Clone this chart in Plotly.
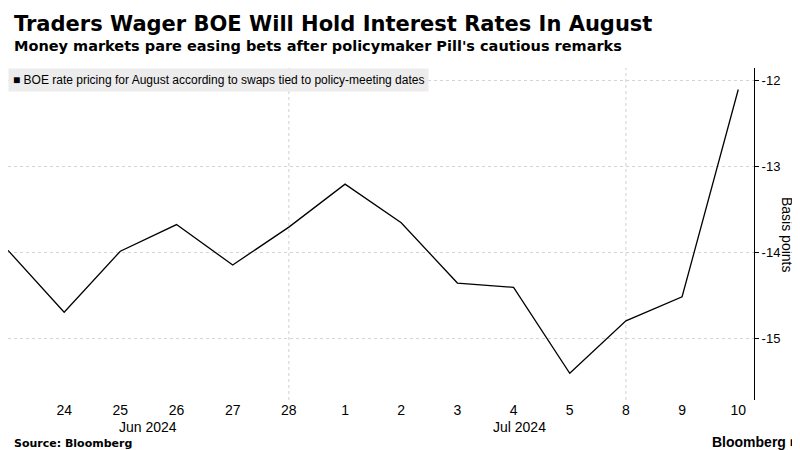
import plotly.graph_objects as go

# trading days, 21 Jun 2024 .. 10 Jul 2024
day_labels = ["21", "24", "25", "26", "27", "28", "1", "2", "3", "4", "5", "8", "9", "10"]
bps = [-13.97, -14.69, -13.98, -13.67, -14.14, -13.70, -13.20, -13.65,
       -14.35, -14.40, -15.40, -14.79, -14.51, -12.10]
y_ticks = [-12, -13, -14, -15]
months = ["Jun 2024", "Jul 2024"]
month_pos = [2.5, 9.1]

idx = list(range(len(bps)))

fig = go.Figure()
fig.add_trace(go.Scatter(x=idx, y=bps, mode="lines",
                         line=dict(color="black", width=1.3), hoverinfo="skip"))

# dotted vertical grid lines
for vx in [5, 11]:
    fig.add_shape(type="line", xref="x", yref="paper", x0=vx, x1=vx, y0=0, y1=1,
                  line=dict(color="#d0d0d0", width=1, dash="dot"), layer="below")

fig.update_layout(
    width=800, height=450,
    margin=dict(l=0, r=54, t=60, b=58),
    paper_bgcolor="white", plot_bgcolor="white",
    showlegend=False,
    font=dict(family="Liberation Sans, sans-serif", color="black"),
    xaxis=dict(range=[0, 13.28], tickvals=idx[1:], ticktext=day_labels[1:], automargin=False,
               showgrid=False, zeroline=False, ticks="", tickfont=dict(size=14)),
    yaxis=dict(range=[-15.71, -11.85], side="right", tickvals=y_ticks, automargin=False,
               ticktext=[str(t) for t in y_ticks], ticks="outside", ticklen=4,
               tickcolor="black", showline=True, linecolor="black", linewidth=1,
               gridcolor="#d4d4d4", griddash="dot", zeroline=False,
               tickfont=dict(size=13)),
)

fig.add_annotation(x=1.0, xshift=43, y=0.5, xref="paper", yref="y domain", showarrow=False,
                   text="Basis points", textangle=90, font=dict(size=14))

fig.add_annotation(x=0, y=1.0, xref="paper", yref="y domain", xanchor="left", yanchor="top",
                   text="\u25a0 BOE rate pricing for August according to swaps tied to policy-meeting dates",
                   showarrow=False, bgcolor="#ececec", font=dict(size=12), borderpad=4)

for m, p in zip(months, month_pos):
    fig.add_annotation(x=p, y=0, xref="x", yref="paper", text=m, showarrow=False,
                       font=dict(size=14), yanchor="top", yshift=-17)

fig.add_annotation(x=0.005, y=1.0, xref="paper", yref="paper", yanchor="top", xanchor="left",
                   yshift=58, showarrow=False,
                   text="<b>Traders Wager BOE Will Hold Interest Rates In August</b>",
                   font=dict(family="DejaVu Sans, sans-serif", size=21))
fig.add_annotation(x=0.005, y=1.0, xref="paper", yref="paper", yanchor="top", xanchor="left",
                   yshift=32, showarrow=False,
                   text="<b>Money markets pare easing bets after policymaker Pill's cautious remarks</b>",
                   font=dict(family="DejaVu Sans, sans-serif", size=14.5))
fig.add_annotation(x=0.005, y=0, xref="paper", yref="paper", yanchor="bottom", xanchor="left",
                   yshift=-52, showarrow=False, text="<b>Source: Bloomberg</b>",
                   font=dict(family="DejaVu Sans, sans-serif", size=11))
fig.add_annotation(x=1.0, y=0, xref="paper", yref="paper", yanchor="bottom", xanchor="right",
                   yshift=-52, xshift=46, showarrow=False, text="<b>Bloomberg</b> \u25a0",
                   font=dict(family="Liberation Sans, sans-serif", size=14))

fig.write_html("out.html")
